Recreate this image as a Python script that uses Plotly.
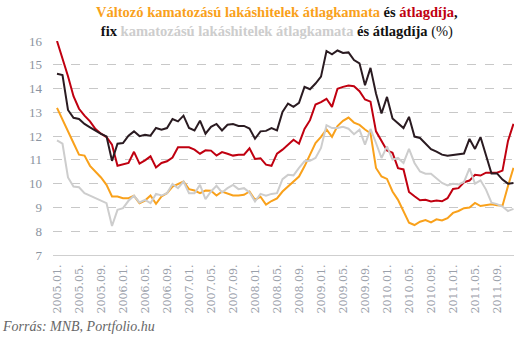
import plotly.graph_objects as go

years = [2005, 2006, 2007, 2008, 2009, 2010, 2011]
months = [f"{y}.{m:02d}." for y in years for m in range(1, 13)]

tick_labels = ["2005.01.", "2005.05.", "2005.09.", "2006.01.", "2006.05.", "2006.09.",
               "2007.01.", "2007.05.", "2007.09.", "2008.01.", "2008.05.", "2008.09.",
               "2009.01.", "2009.05.", "2009.09.", "2010.01.", "2010.05.", "2010.09.",
               "2011.01.", "2011.05.", "2011.09."]

valtozo_kamat = [13.19, 12.72, 12.24, 11.71, 11.22, 11.18, 10.75, 10.51, 10.26, 9.95,
                 9.46, 9.46, 9.39, 9.39, 9.49, 9.18, 9.29, 9.5, 9.15, 9.46,
                 9.6, 9.88, 9.99, 10.09, 9.77, 9.71, 9.6, 9.71, 9.7, 9.5,
                 9.67, 9.57, 9.5, 9.5, 9.53, 9.67, 9.32, 9.45,
                 9.12, 9.27, 9.38, 9.67, 9.88, 10.09, 10.3, 10.73, 11.22, 11.71,
                 11.97, 12.28, 11.97, 12.42, 12.64, 12.78, 12.57, 12.47, 12.28, 12.12,
                 10.66, 10.3, 10.2, 9.67, 9.32, 8.83, 8.36, 8.26, 8.4, 8.47,
                 8.37, 8.5, 8.45, 8.55, 8.77, 8.85, 8.97, 9.0, 9.19, 9.06,
                 9.1, 9.13, 9.09, 9.07, 9.9, 10.67]

valtozo_dij = [16.0, 15.3, 14.52, 13.68, 13.15, 12.86, 12.62, 12.3, 12.1, 11.96,
               11.64, 10.75, 10.8, 10.87, 11.34, 10.84, 10.98, 11.15, 10.68, 10.87,
               10.94, 11.1, 11.53, 11.53, 11.53, 11.43, 11.26, 11.4, 11.39, 11.18,
               11.33, 11.26, 11.18, 11.22, 11.22, 11.49, 11.04, 11.07,
               10.8, 10.75, 11.26, 11.43, 11.64, 11.85, 11.68, 12.3, 12.67, 13.33,
               13.43, 13.57, 13.23, 13.99, 14.07, 14.13, 14.1, 13.89, 13.54, 13.45,
               12.2, 11.8, 11.4, 11.3, 10.65, 10.6, 9.65, 9.47, 9.3, 9.32,
               9.25, 9.29, 9.26, 9.39, 9.78, 9.81, 10.06, 10.13, 10.37, 10.34,
               10.46, 10.46, 10.46, 10.55, 11.8, 12.52]

fix_kamat = [11.82, 11.68, 10.26, 9.88, 9.85, 9.6, 9.5, 9.39, 9.29, 9.18,
             8.22, 8.9, 8.97, 9.28, 9.49, 9.21, 9.32, 9.18, 9.57, 9.5,
             9.6, 9.99, 9.81, 10.09, 9.6, 9.6, 9.95, 9.35, 9.67, 9.91,
             9.63, 9.81, 9.95, 9.77, 9.81, 9.63, 9.25, 9.57,
             9.49, 9.57, 9.6, 10.19, 10.37, 10.35, 10.66, 10.94, 10.96, 11.08,
             11.5, 12.46, 12.34, 12.34, 12.39, 12.31, 12.08, 12.27, 11.64, 12.3,
             11.71, 11.08, 11.57, 11.01, 11.08, 10.87, 11.46, 10.87, 10.51, 10.42,
             10.42, 10.23, 10.03, 9.93, 10.0, 9.97, 10.07, 10.64, 10.0, 10.14,
             9.75, 9.2, 9.14, 9.04, 8.85, 8.94]

fix_dij = [14.62, 14.57, 13.1, 12.77, 12.72, 12.51, 12.37, 12.23, 12.09, 11.99,
           10.96, 11.68, 11.71, 12.02, 12.2, 12.0, 12.06, 12.02, 12.34, 12.27,
           12.34, 12.72, 12.62, 12.86, 12.34, 12.24, 12.65, 12.1, 12.39, 12.51,
           12.24, 12.48, 12.51,
           12.43, 12.43, 12.32, 11.89, 12.2, 12.22, 12.34, 12.24, 13.02, 13.37,
           13.23, 13.4, 14.07, 13.97, 14.21, 14.5, 15.58, 15.44, 15.6, 15.5,
           15.52, 15.2, 15.06, 14.14, 14.87, 13.79, 12.95, 13.65, 12.74, 12.53,
           12.34, 12.81,
           11.98, 11.92, 11.68, 11.45, 11.35, 11.22, 11.17, 11.2, 11.26, 11.27,
           11.88, 11.46, 11.96, 11.14, 10.43, 10.43, 10.17, 10.0, 10.03]

n = len(fix_dij)
x = months[:n]

C_ORANGE = "#F9A11B"
C_RED = "#C00010"
C_GRAY = "#CDCDCD"
C_BLACK = "#2A1B21"

fig = go.Figure()
for name, vals, col in [
    ("Változó kamatozású átlagkamat", valtozo_kamat, C_ORANGE),
    ("Változó kamatozású átlagdíj", valtozo_dij, C_RED),
    ("Fix kamatozású átlagkamat", fix_kamat, C_GRAY),
    ("Fix kamatozású átlagdíj", fix_dij, C_BLACK),
]:
    fig.add_trace(go.Scatter(x=x, y=vals, mode="lines", name=name,
                             line=dict(color=col, width=2), hoverinfo="skip"))

title = (f"<b><span style='color:{C_ORANGE}'>Változó kamatozású lakáshitelek átlagkamata</span>"
         f" <span style='color:#111'>és</span> <span style='color:{C_RED}'>átlagdíja</span>"
         f"<span style='color:#111'>,</span></b><br>"
         f"<b><span style='color:#111'>fix</span> <span style='color:{C_GRAY}'>kamatozású lakáshitelek átlagkamata</span>"
         f" <span style='color:#111'>és átlagdíja</span></b><span style='color:#111'> (%)</span>")

PLOT_L, PLOT_T, PLOT_W, PLOT_H = 53, 41, 461, 214

fig.update_layout(
    width=531, height=342,
    margin=dict(l=PLOT_L, r=531 - PLOT_L - PLOT_W, t=PLOT_T, b=342 - PLOT_T - PLOT_H),
    paper_bgcolor="white", plot_bgcolor="white",
    showlegend=False,
    font=dict(family="Liberation Serif", color="#8a93a0"),
    annotations=[
        dict(text=title, xref="paper", yref="paper",
             x=(277 - PLOT_L) / PLOT_W, y=1 + (PLOT_T - 2) / PLOT_H,
             xanchor="center", yanchor="top", align="center", showarrow=False,
             font=dict(family="Liberation Serif", size=14.5, color="#111")),
        dict(text="<i>Forrás: MNB, Portfolio.hu</i>", xref="paper", yref="paper",
             x=-PLOT_L / PLOT_W, y=-(326 - (PLOT_T + PLOT_H)) / PLOT_H,
             xanchor="left", yanchor="middle", showarrow=False,
             font=dict(family="Liberation Serif", size=14, color="#666")),
    ],
)

fig.update_xaxes(
    type="category",
    range=[-4 / 5.5, n - 1 + 0.5 / 5.5],
    tickmode="array", tickvals=tick_labels, ticktext=tick_labels,
    tickangle=-90, tickfont=dict(family="DejaVu Serif", size=11, color="#9aa0aa"),
    showgrid=False, showline=True, linecolor="#cfcfcf", linewidth=1,
    ticks="", ticklabelstandoff=4,
)
fig.update_yaxes(
    range=[7, 16], dtick=1, tick0=7,
    showgrid=True, gridcolor="#c8c8c8", griddash="dash", gridwidth=1,
    zeroline=False, showline=False, ticks="",
    tickfont=dict(family="Liberation Serif", size=13, color="#8a93a0"),
    ticklabelstandoff=10,
)

fig.write_html("out.html")
